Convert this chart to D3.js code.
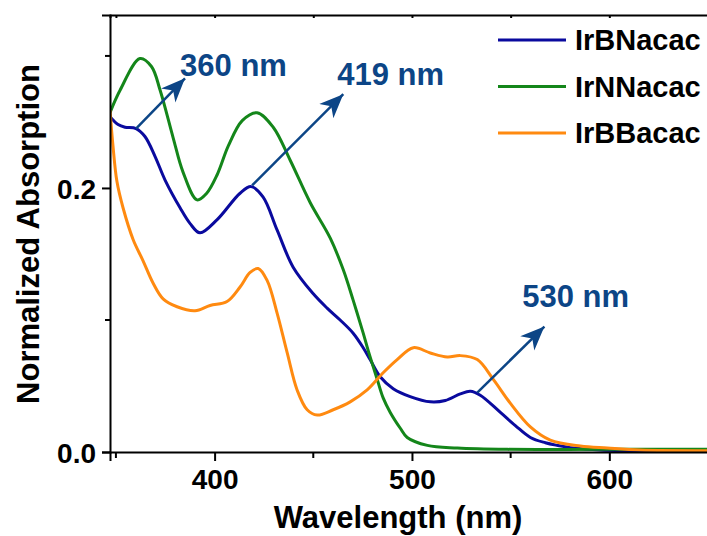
<!DOCTYPE html>
<html>
<head>
<meta charset="utf-8">
<script src="https://cdn.jsdelivr.net/npm/d3@7"></script>
<style>
  body { margin: 0; background: #fff; }
  text { font-family: "Liberation Sans", Arial, sans-serif; font-weight: bold; }
</style>
</head>
<body>
<div class="wrapper"></div>
<script>
// IrBNacac (blue)
const bnWave = [347, 351.1, 354.6, 360.2, 364.7, 369.8, 374.9, 382.5, 387.6, 392.6, 401.3, 412.9, 418.5, 424.6, 431.7, 439.8, 449.9, 457, 463.6, 470.2, 475.3, 478.8, 483.9, 490.5, 499.1, 509.3, 516.9, 524.5, 529.6, 534.6, 544.8, 552.4, 560, 567.6, 573.7, 581.8, 595.5, 620.8, 650]
const bnAbs  = [0.254, 0.248, 0.246, 0.245, 0.239, 0.224, 0.206, 0.185, 0.173, 0.166, 0.176, 0.196, 0.201, 0.193, 0.168, 0.140, 0.120, 0.109, 0.100, 0.090, 0.079, 0.070, 0.057, 0.048, 0.042, 0.038, 0.039, 0.044, 0.046, 0.043, 0.030, 0.020, 0.011, 0.007, 0.005, 0.003, 0.0015, 0.001, 0.001]

// IrNNacac (green)
const nnWave = [347, 352.1, 362.2, 368, 372.4, 379, 384, 391.1, 396, 401.3, 407, 414, 421.5, 429.7, 438.3, 448.4, 458.6, 465.2, 470.2, 475.3, 477.8, 482.4, 485.4, 489, 494.1, 497.6, 507.8, 523, 548.3, 595.5, 650]
const nnAbs  = [0.257, 0.274, 0.298, 0.292, 0.274, 0.238, 0.212, 0.191, 0.196, 0.210, 0.232, 0.251, 0.257, 0.246, 0.221, 0.189, 0.162, 0.138, 0.115, 0.090, 0.077, 0.055, 0.041, 0.030, 0.018, 0.011, 0.005, 0.003, 0.002, 0.002, 0.002]

// IrBBacac (orange)
const bbWave = [347, 348.5, 350.5, 353.6, 358.7, 363.7, 368.8, 373.9, 381, 390.1, 397.7, 406.3, 412.9, 418, 422.1, 426.6, 431.7, 436.8, 441.8, 446.9, 452, 460.1, 468.7, 477.3, 485.4, 492.5, 500.7, 509.3, 517.9, 524.5, 533.1, 541.2, 549.8, 560, 570.1, 585.3, 599, 615.8, 650]
const bbAbs  = [0.259, 0.232, 0.205, 0.185, 0.161, 0.145, 0.128, 0.116, 0.110, 0.107, 0.111, 0.114, 0.125, 0.136, 0.139, 0.130, 0.105, 0.075, 0.047, 0.032, 0.028, 0.032, 0.038, 0.047, 0.060, 0.070, 0.079, 0.075, 0.072, 0.073, 0.070, 0.055, 0.037, 0.019, 0.009, 0.0045, 0.003, 0.0015, 0.001]

const seriesNames = ["IrBNacac", "IrNNacac", "IrBBacac"]
const seriesColors = ["#0a0a9e", "#14861a", "#ff8a10"]

const xMajorTicks = [400, 500, 600]
const xMinorTicks = [350, 450, 550, 650]
const yMajorTicks = [0.0, 0.2]
const yMinorTicks = [0.1, 0.3]

// peak annotations: arrow from [x0,y0] to [x1,y1], label at [lx,ly]
const peakLabels = ["360 nm", "419 nm", "530 nm"]
const peakArrows = [
    [360.2, 0.245, 385.0, 0.283],
    [419.0, 0.202, 465.2, 0.271],
    [533.1, 0.045, 567.1, 0.095],
]
const peakLabelPos = [[382.5, 0.285], [462.1, 0.278], [555.9, 0.110]]

const dimensions = {
    width: 707,
    height: 536,
    margin: { top: 15, right: -1, bottom: 84, left: 110 },
}
dimensions.boundedWidth = dimensions.width - dimensions.margin.left - dimensions.margin.right
dimensions.boundedHeight = dimensions.height - dimensions.margin.top - dimensions.margin.bottom

const svg = d3.select(".wrapper").append("svg")
    .attr("width", dimensions.width)
    .attr("height", dimensions.height)

const bounds = svg.append("g")
    .attr("transform", `translate(${dimensions.margin.left},${dimensions.margin.top})`)

const xScale = d3.scaleLinear()
    .domain([347, 650])
    .range([0, dimensions.boundedWidth])

const yScale = d3.scaleLinear()
    .domain([0, 0.331])
    .range([dimensions.boundedHeight, 0])

const annColor = "#0c4586"

const defs = svg.append("defs")
defs.append("clipPath").attr("id", "plot-clip")
    .append("rect")
    .attr("width", dimensions.boundedWidth)
    .attr("height", dimensions.boundedHeight)

defs.append("marker")
    .attr("id", "arrowhead")
    .attr("markerUnits", "userSpaceOnUse")
    .attr("viewBox", "-24 -11 26 22")
    .attr("markerWidth", 26)
    .attr("markerHeight", 22)
    .attr("refX", 0)
    .attr("refY", 0)
    .attr("orient", "auto")
    .append("path")
    .attr("d", "M0,0 L-24,-10 L-17,0 L-24,10 Z")
    .attr("fill", annColor)

// lines
const lineGen = d3.line()
    .x(d => xScale(d[0]))
    .y(d => yScale(d[1]))
    .curve(d3.curveCatmullRom.alpha(0.5))

const allSeries = [
    d3.zip(bnWave, bnAbs),
    d3.zip(nnWave, nnAbs),
    d3.zip(bbWave, bbAbs),
]

const lineLayer = bounds.append("g").attr("clip-path", "url(#plot-clip)")
;[0, 1, 2].forEach(i => {
    lineLayer.append("path")
        .attr("d", lineGen(allSeries[i]))
        .attr("fill", "none")
        .attr("stroke", seriesColors[i])
        .attr("stroke-width", 3)
        .attr("stroke-linejoin", "round")
})

// axes
const axisColor = "#000"
const xAxis = d3.axisBottom(xScale).tickValues(xMajorTicks).tickSize(9).tickPadding(6).tickFormat(d3.format("d"))
const xAxisG = bounds.append("g")
    .attr("transform", `translate(0,${dimensions.boundedHeight})`)
    .call(xAxis)
xAxisG.append("g").selectAll("line")
    .data(xMinorTicks).enter().append("line")
    .attr("x1", d => xScale(d)).attr("x2", d => xScale(d))
    .attr("y1", 0).attr("y2", 6)
    .attr("stroke", axisColor).attr("stroke-width", 2)

const topAxisG = bounds.append("g")
    .call(d3.axisTop(xScale).tickValues(xMajorTicks.concat(xMinorTicks)).tickSize(-3).tickFormat(""))

const yAxis = d3.axisLeft(yScale).tickValues(yMajorTicks).tickSize(8).tickPadding(6).tickFormat(d3.format(".1f"))
const yAxisG = bounds.append("g").call(yAxis)
yAxisG.append("g").selectAll("line")
    .data(yMinorTicks).enter().append("line")
    .attr("x1", 0).attr("x2", -5)
    .attr("y1", d => yScale(d)).attr("y2", d => yScale(d))
    .attr("stroke", axisColor).attr("stroke-width", 2)

;[xAxisG, topAxisG, yAxisG].forEach(g => {
    g.select(".domain").attr("stroke", axisColor).attr("stroke-width", 2)
    g.selectAll(".tick line").attr("stroke", axisColor).attr("stroke-width", 2)
    g.selectAll(".tick text")
        .attr("fill", "#000")
        .style("font-family", "'Liberation Sans', Arial, sans-serif")
        .style("font-weight", "bold")
        .style("font-size", "28px")
})
xAxisG.selectAll(".tick text").attr("dy", "0.78em")
yAxisG.selectAll(".tick text").attr("dy", "0.36em")

// axis titles
svg.append("text")
    .attr("x", 398)
    .attr("y", 528)
    .attr("text-anchor", "middle")
    .style("font-size", "31px")
    .text("Wavelength (nm)")

svg.append("text")
    .attr("transform", `translate(39,234) rotate(-90)`)
    .attr("text-anchor", "middle")
    .style("font-size", "31px")
    .text("Normalized Absorption")

// annotations
const annLayer = bounds.append("g")
annLayer.selectAll("line")
    .data(peakArrows).enter().append("line")
    .attr("x1", d => xScale(d[0])).attr("y1", d => yScale(d[1]))
    .attr("x2", d => xScale(d[2])).attr("y2", d => yScale(d[3]))
    .attr("stroke", annColor)
    .attr("stroke-width", 2.5)
    .attr("marker-end", "url(#arrowhead)")

annLayer.selectAll("text")
    .data(peakLabels).enter().append("text")
    .attr("x", (d, i) => xScale(peakLabelPos[i][0]))
    .attr("y", (d, i) => yScale(peakLabelPos[i][1]))
    .attr("fill", annColor)
    .style("font-size", "31px")
    .text(d => d)

// legend
const legend = svg.append("g").attr("transform", "translate(498,40)")
const legendItems = legend.selectAll("g")
    .data(seriesNames).enter().append("g")
    .attr("transform", (d, i) => `translate(0,${i * 46.5})`)
legendItems.append("line")
    .attr("x1", 0).attr("x2", 68)
    .attr("stroke", (d, i) => seriesColors[i])
    .attr("stroke-width", 3)
legendItems.append("text")
    .attr("x", 77)
    .attr("dy", "0.36em")
    .style("font-size", "29px")
    .text(d => d)
</script>
</body>
</html>
